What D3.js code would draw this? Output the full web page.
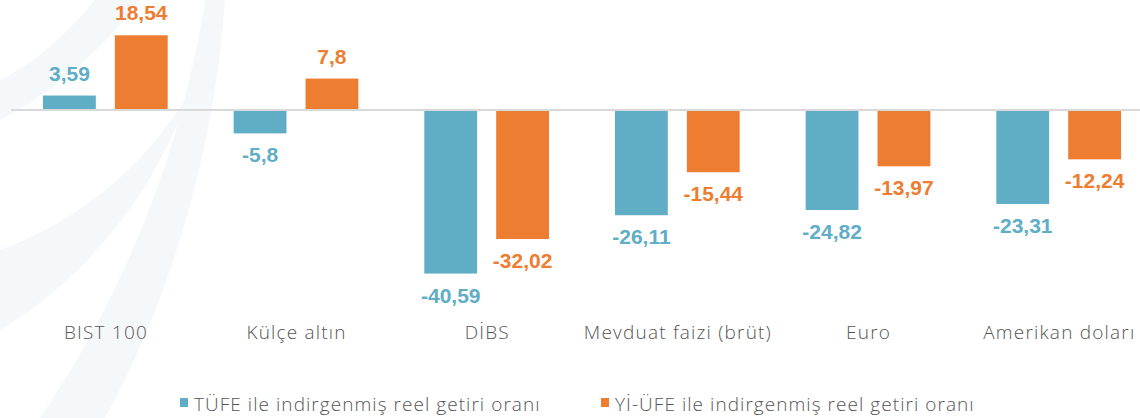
<!DOCTYPE html>
<html>
<head>
<meta charset="utf-8">
<script src="https://cdn.jsdelivr.net/npm/d3@7"></script>
<style>
  html, body { margin: 0; padding: 0; background: #fff; }
  svg { display: block; }
</style>
</head>
<body>
<svg id="chart" width="1140" height="418"></svg>
<script>
const categories = ["BIST 100", "Külçe altın", "DİBS", "Mevduat faizi (brüt)", "Euro", "Amerikan doları"];
const seriesNames = ["TÜFE ile indirgenmiş reel getiri oranı", "Yİ-ÜFE ile indirgenmiş reel getiri oranı"];
const tufeValues = [3.59, -5.8, -40.59, -26.11, -24.82, -23.31];
const yiufeValues = [18.54, 7.8, -32.02, -15.44, -13.97, -12.24];
const seriesColors = ["#60adc6", "#ed7d31"];

const fmt = v => String(v).replace(".", ",");
const data = categories.map((c, i) => ({ cat: c, vals: [tufeValues[i], yiufeValues[i]] }));

const svg = d3.select("#chart");
const lightFont = "'Open Sans', 'Liberation Sans', Arial, sans-serif";

// faint background watermark
const wm = svg.append("g").attr("fill", "#f5f8fa");
wm.append("path").attr("d", "M205,0 L225,0 C215,150 170,300 105,418 L40,418 C120,300 180,160 205,0 Z");
wm.append("path").attr("d", "M0,120 C60,90 110,40 140,0 L95,0 C70,30 40,60 0,80 Z");
wm.append("path").attr("d", "M0,250 C80,220 140,170 185,100 L200,60 C170,170 100,270 0,330 Z");

const x0 = d3.scaleBand().domain(categories).range([10, 1154]).paddingInner(0.346).paddingOuter(0.173);
const x1 = d3.scaleBand().domain([0, 1]).range([0, x0.bandwidth()]).paddingInner(0.265);
const y = d3.scaleLinear().domain([-45, 20]).range([291.35, 29.4]);

const groups = svg.append("g").selectAll("g").data(data).join("g")
  .attr("transform", d => `translate(${x0(d.cat)},0)`);

groups.selectAll("rect").data(d => d.vals.map((v, s) => ({ v, s }))).join("rect")
  .attr("x", d => x1(d.s))
  .attr("width", x1.bandwidth())
  .attr("y", d => d.v >= 0 ? y(d.v) : y(0))
  .attr("height", d => Math.abs(y(d.v) - y(0)))
  .attr("fill", d => seriesColors[d.s]);

groups.selectAll("text.val").data(d => d.vals.map((v, s) => ({ v, s }))).join("text")
  .attr("class", "val")
  .attr("x", d => x1(d.s) + x1.bandwidth() / 2)
  .attr("y", d => d.v >= 0 ? y(d.v) - 15 : y(d.v) + 29)
  .attr("text-anchor", "middle")
  .attr("font-family", "Liberation Sans, Arial, sans-serif")
  .attr("font-weight", "bold")
  .attr("font-size", 21)
  .attr("fill", d => seriesColors[d.s])
  .text(d => fmt(d.v));

// zero line
svg.append("line")
  .attr("x1", 11).attr("x2", 1140)
  .attr("y1", y(0)).attr("y2", y(0))
  .attr("stroke", "#d9d9d9").attr("stroke-width", 2);

// category axis labels
const xAxis = d3.axisBottom(x0).tickSize(0).tickPadding(0);
const ax = svg.append("g").attr("transform", "translate(0,325)").call(xAxis);
ax.select(".domain").remove();
ax.selectAll("text")
  .attr("font-family", lightFont)
  .attr("font-weight", 300)
  .attr("font-size", 19)
  .attr("letter-spacing", 1.2)
  .attr("dx", 0.6)
  .attr("fill", "#555555")
  .attr("dy", "0.71em");

// legend
const legendX = [180, 601];
const leg = svg.append("g").selectAll("g").data(seriesNames).join("g")
  .attr("transform", (d, i) => `translate(${legendX[i]},0)`);
leg.append("rect").attr("x", 0).attr("y", 398).attr("width", 8).attr("height", 9)
  .attr("fill", (d, i) => seriesColors[i]);
leg.append("text").attr("x", 14).attr("y", 411)
  .attr("font-family", lightFont)
  .attr("font-weight", 300)
  .attr("font-size", 19)
  .attr("letter-spacing", 1.05)
  .attr("fill", "#555555")
  .text(d => d);
</script>
</body>
</html>
